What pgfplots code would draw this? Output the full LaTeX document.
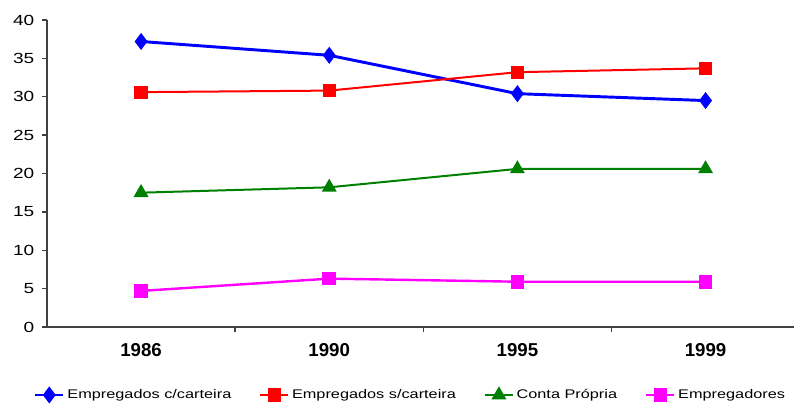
\documentclass[border=0pt]{standalone}
\usepackage{fontspec}
\setmainfont{Liberation Sans}
\newfontfamily\widefont{Liberation Sans}[FakeStretch=1.3]
\usepackage{pgfplots}
\pgfplotsset{compat=1.18}

\definecolor{serA}{RGB}{0,0,255}
\definecolor{serB}{RGB}{255,0,0}
\definecolor{serC}{RGB}{0,128,0}
\definecolor{serD}{RGB}{255,0,255}

\begin{document}
\begin{tikzpicture}
\begin{axis}[
  name=ax,
  scale only axis,
  width=560.25pt, height=230.25pt,
  xmin=-0.5, xmax=3.47,
  ymin=0, ymax=40,
  ytick={0,5,...,40},
  axis x line*=bottom,
  axis y line*=left,
  axis line style={line width=1.3pt, black!75},
  tick align=outside,
  major tick length=4pt,
  tick style={line width=1pt, black!75},
  xtick={0.5,1.5,2.5},
  xticklabels={},
  extra x ticks={0,1,2,3},
  extra x tick labels={1986,1990,1995,1999},
  extra x tick style={major tick length=0pt,
    xticklabel style={font=\fontsize{14}{14}\selectfont\bfseries, yshift=-9pt}},
  yticklabel style={font=\widefont\fontsize{11}{11}\selectfont, xshift=-2pt},
  /pgf/number format/assume math mode=true,
  legend style={draw=none, at={(0.487,-0.2215)}, anchor=center,
    font=\widefont\fontsize{9.4}{9.4}\selectfont, inner sep=0pt},
  legend columns=4,
  legend image code/.code={\draw[mark repeat=2,mark phase=2,#1]
    plot coordinates {(0pt,0pt)(10.5pt,0pt)(21pt,0pt)};},
  /tikz/every even column/.append style={column sep=19pt},
]
\addplot[serA, line width=2.2pt, mark=diamond*, mark size=4.6pt] coordinates {(0,37.2) (1,35.4) (2,30.4) (3,29.5)};
\addplot[serB, line width=1.5pt, mark=square*, mark size=4.2pt] coordinates {(0,30.6) (1,30.8) (2,33.2) (3,33.7)};
\addplot[serC, line width=1.5pt, mark=triangle*, mark size=5pt] coordinates {(0,17.5) (1,18.2) (2,20.6) (3,20.6)};
\addplot[serD, line width=1.8pt, mark=square*, mark size=4.2pt] coordinates {(0,4.7) (1,6.3) (2,5.9) (3,5.9)};
\legend{Empregados c/carteira, Empregados s/carteira, Conta Própria, Empregadores}
\end{axis}
\pgfresetboundingbox
\path (ax.south west) ++(-35.25pt,-58.5pt) coordinate (bl);
\path (ax.north east) ++(0pt,15pt) coordinate (tr);
\path[use as bounding box] (bl) rectangle (tr);
\end{tikzpicture}
\end{document}
